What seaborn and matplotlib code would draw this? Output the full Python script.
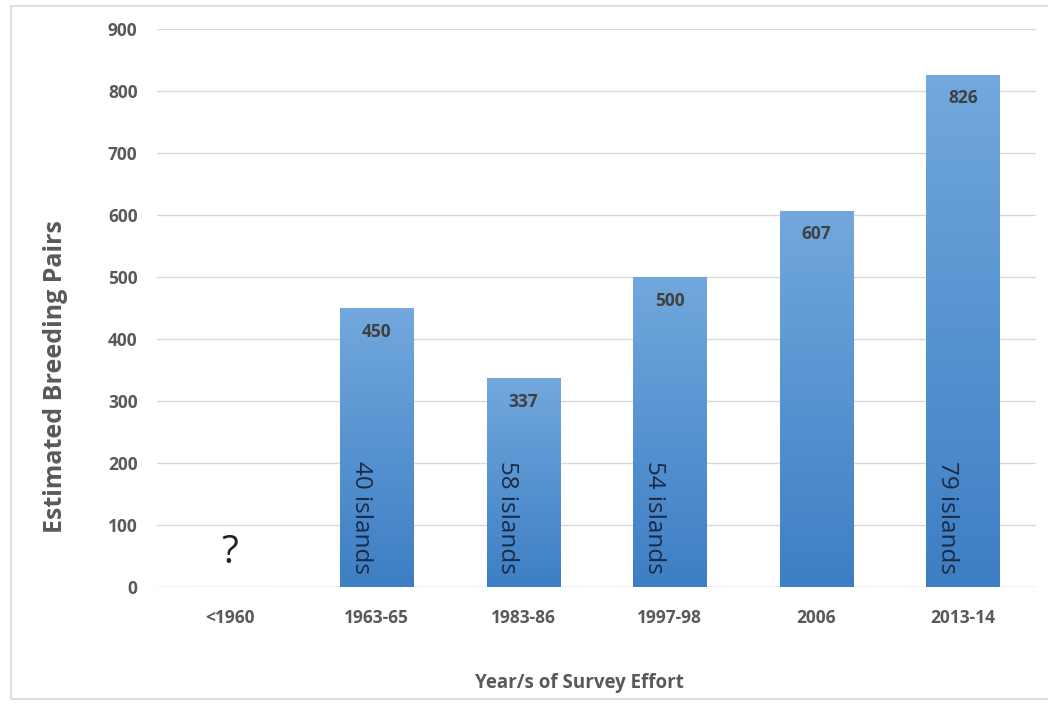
import numpy as np
import pandas as pd
import matplotlib
matplotlib.use("Agg")
import matplotlib.pyplot as plt
from matplotlib.patches import Rectangle
from matplotlib.colors import LinearSegmentedColormap
import seaborn as sns

# Survey periods and estimated breeding pairs
periods = ["<1960", "1963-65", "1983-86", "1997-98", "2006", "2013-14"]
pairs = [0, 450, 337, 500, 607, 826]
value_labels = ["", "450", "337", "500", "607", "826"]
island_notes = ["", "40 islands", "58 islands", "54 islands", "", "79 islands"]
unknown_mark = "?"

sns.set_theme(style="white")
plt.rcParams["font.family"] = ["Open Sans", "DejaVu Sans"]

df = pd.DataFrame({"period": periods, "pairs": pairs})

fig = plt.figure(figsize=(10.48, 7.04), dpi=100)
ax = fig.add_axes([0.1498, 0.1662, 0.8387, 0.7926])

sns.barplot(data=df, x="period", y="pairs", color="#5b9bd5", width=0.5,
            saturation=1, ax=ax, zorder=3)

ax.set_ylim(0, 900)
ax.set_xlim(-0.5, len(periods) - 0.5)
ax.set_yticks(np.arange(0, 901, 100))
ax.yaxis.grid(True, color="#d9d9d9", linewidth=1.0, zorder=0)
ax.set_axisbelow(True)
for s in ax.spines.values():
    s.set_visible(False)
ax.axhline(0, color="#d9d9d9", linewidth=1.0, zorder=1)

ax.tick_params(axis="both", length=0, labelsize=12.5, colors="#595959")
for t in ax.get_xticklabels() + ax.get_yticklabels():
    t.set_fontweight("bold")
ax.tick_params(axis="y", pad=14)
ax.tick_params(axis="x", pad=16)

ax.set_ylabel("Estimated Breeding Pairs", fontsize=18, fontweight="bold",
              color="#595959")
ax.yaxis.set_label_coords(-0.116, 0.378)
ax.yaxis.label.set_va("center")
ax.set_xlabel("Year/s of Survey Effort", fontsize=13.5, fontweight="bold",
              color="#595959")
ax.xaxis.set_label_coords(0.481, -0.172)
ax.xaxis.label.set_va("center")

# Vertical gradient fill on each bar
grad = LinearSegmentedColormap.from_list("bar", ["#3d7ec4", "#72a8dd"])
gradient = np.linspace(0, 1, 256).reshape(-1, 1)
for patch in ax.patches:
    x0, y0 = patch.get_x(), patch.get_y()
    w, h = patch.get_width(), patch.get_height()
    if h <= 0:
        continue
    patch.set_facecolor("none")
    patch.set_edgecolor("none")
    im = ax.imshow(gradient, cmap=grad, aspect="auto", origin="lower",
                   extent=[x0, x0 + w, y0, y0 + h], zorder=3)
    im.set_clip_path(patch)
ax.set_xlim(-0.5, len(periods) - 0.5)
ax.set_ylim(0, 900)

for i, (v, lab, note) in enumerate(zip(pairs, value_labels, island_notes)):
    if lab:
        ax.text(i, v - 38, lab, ha="center", va="center", fontsize=12.5,
                fontweight="bold", color="#404040", zorder=5)
    if note:
        ax.text(i - 0.11, 204, note, ha="center", va="top", rotation=270,
                fontsize=17.5, color="#1a2a45", zorder=5)

ax.text(0, 55, unknown_mark, ha="center", va="center", fontsize=28,
        color="#222222", zorder=5)

# Light frame around the chart area (open on the right)
fig.patches.append(Rectangle((0.0105, 0.007), 1.2, 0.984,
                             transform=fig.transFigure, fill=False,
                             edgecolor="#d9d9d9", linewidth=1.2))

fig.savefig("out.png", dpi=100, facecolor="white")
